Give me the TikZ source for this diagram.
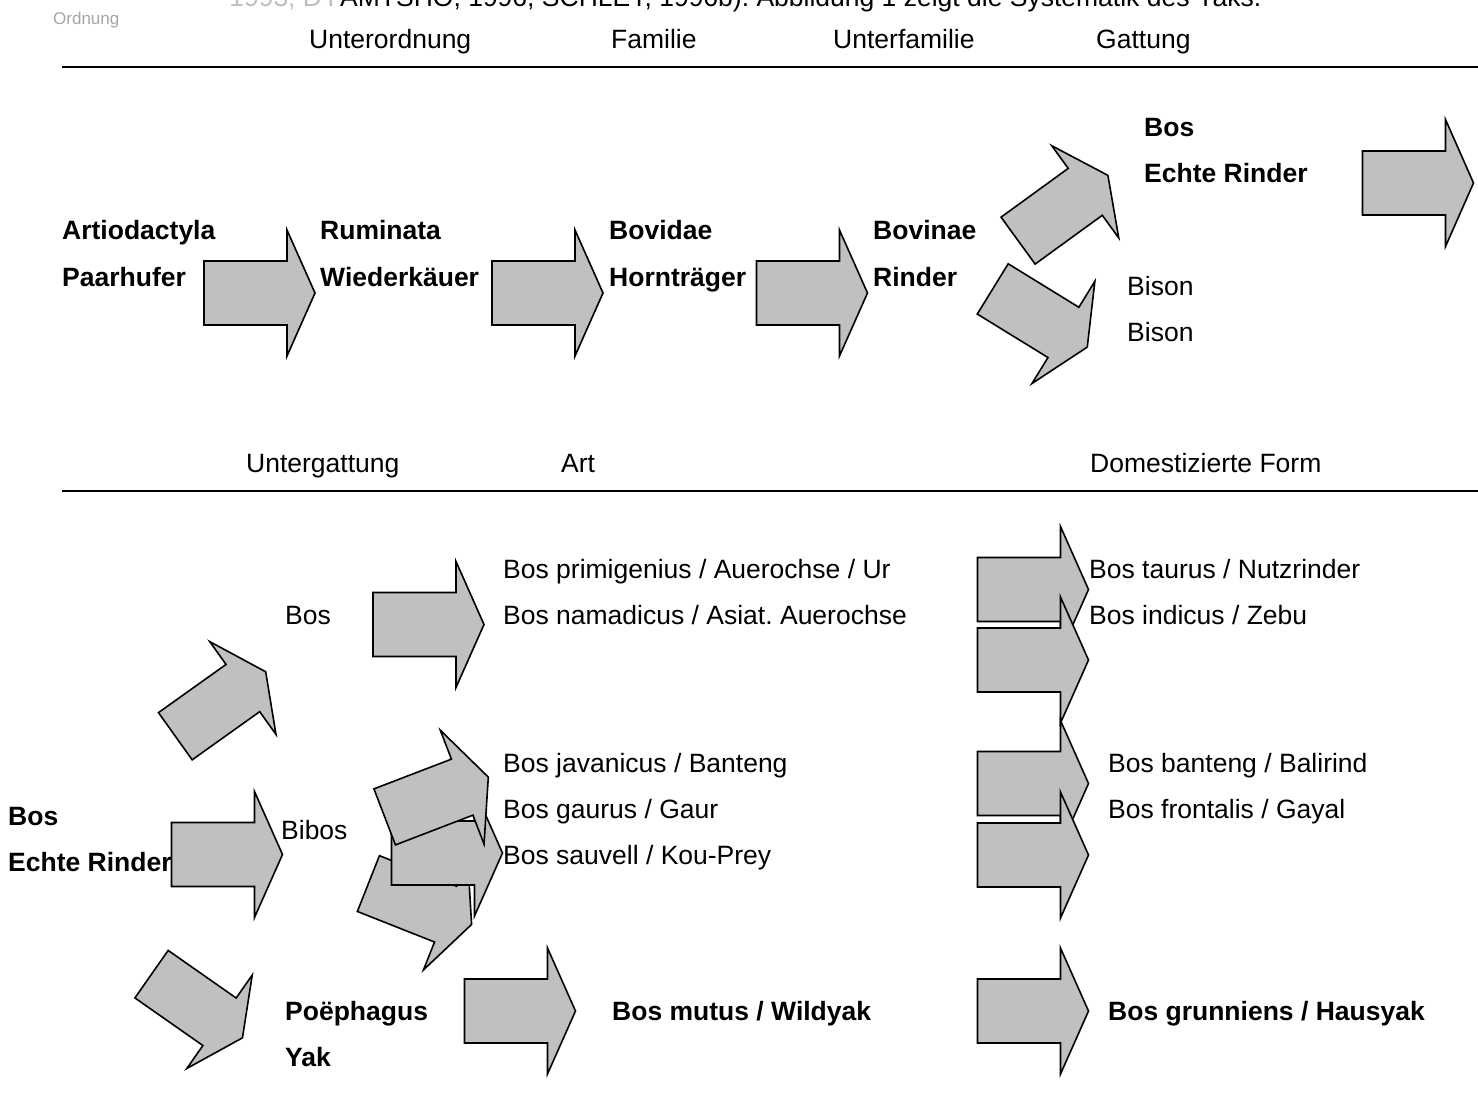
\documentclass[tikz,border=0pt]{standalone}
\usepackage{fontspec}
\setmainfont{Liberation Sans}
\frenchspacing
\newcommand\fsz{\fontsize{26.5}{46}\selectfont}
\newcommand\bigarr[6]{%
  \begin{scope}[shift={(#2,#3)},rotate=#4]
    \draw[blockarrow] (-55.5,-#5) -- (27.5,-#5) -- (27.5,-#6) -- (55.5,0) -- (27.5,#6) -- (27.5,#5) -- (-55.5,#5) -- cycle;
    \coordinate (#1) at (0,0);
  \end{scope}}
\definecolor{arrgray}{RGB}{192,192,192}
\tikzset{
  lbl/.style={anchor=base west, inner sep=0pt, font=\fsz},
  blbl/.style={lbl, font=\fsz\bfseries},
  blockarrow/.style={draw=black, fill=arrgray, line width=1.6pt, line join=miter},
  rule/.style={line width=1.8pt}
}
\begin{document}
\begin{tikzpicture}[x=1pt,y=-1pt]
\useasboundingbox (0,0) rectangle (1478,1110);
\clip (0,0) rectangle (1478,1110);
\fill[white] (0,0) rectangle (1478,1110);

% cut-off text line at top
\node[lbl] (cut) at (340,7) {AMTSHO, 1996, SCHLEY, 1996b). Abbildung 1 zeigt die Systematik des Yaks.};
\node[anchor=base east, inner sep=0pt, font=\fsz, text=black!25] (cutl) at (340,7) {1993; DY};
\node[anchor=base west, inner sep=0pt, font=\fontsize{17}{20}\selectfont, text=black!35] (ord) at (53,25) {Ordnung};

% headers row 1
\node[lbl] (h1) at (309,49) {Unterordnung};
\node[lbl] (h2) at (611,49) {Familie};
\node[lbl] (h3) at (833,49) {Unterfamilie};
\node[lbl] (h4) at (1096,49) {Gattung};
\coordinate (r1a) at (62,67);
\coordinate (r1b) at (1478,67);
\draw[rule] (r1a) -- (r1b);

% top row labels
\node[blbl] (art1) at (62,240) {Artiodactyla};
\node[blbl] (art2) at (62,287) {Paarhufer};
\node[blbl] (rum1) at (320,240) {Ruminata};
\node[blbl] (rum2) at (320,287) {Wiederkäuer};
\node[blbl] (bov1) at (609,240) {Bovidae};
\node[blbl] (bov2) at (609,287) {Hornträger};
\node[blbl] (bvn1) at (873,240) {Bovinae};
\node[blbl] (bvn2) at (873,287) {Rinder};
\node[blbl] (bos1) at (1144,137) {Bos};
\node[blbl] (bos2) at (1144,183) {Echte Rinder};
\node[lbl] (bis1) at (1127,295) {Bison};
\node[lbl] (bis2) at (1127,341) {Bison};

% top row arrows
\bigarr{ta1}{259.5}{293}{0}{32}{63}
\bigarr{ta2}{547.5}{293}{0}{32}{63}
\bigarr{ta3}{812}{293}{0}{32}{63}
\bigarr{ta4}{1063}{208}{36}{29}{57}
\bigarr{ta5}{1040}{318}{-31.6}{29.5}{60}
\bigarr{ta6}{1418}{183}{0}{32}{63.5}

% headers row 2
\node[lbl] (g1) at (246,472) {Untergattung};
\node[lbl] (g2) at (561,472) {Art};
\node[lbl] (g3) at (1090,472) {Domestizierte Form};
\coordinate (r2a) at (62,491);
\coordinate (r2b) at (1478,491);
\draw[rule] (r2a) -- (r2b);

% bottom labels
\node[lbl] (ubos) at (285,624) {Bos};
\node[lbl] (a1) at (503,578) {Bos primigenius / Auerochse / Ur};
\node[lbl] (a2) at (503,624) {Bos namadicus / Asiat. Auerochse};
\node[lbl] (d1) at (1089,578) {Bos taurus / Nutzrinder};
\node[lbl] (d2) at (1089,624) {Bos indicus / Zebu};
\node[lbl] (a3) at (503,772) {Bos javanicus / Banteng};
\node[lbl] (a4) at (503,818) {Bos gaurus / Gaur};
\node[lbl] (a5) at (503,864) {Bos sauvell / Kou-Prey};
\node[lbl] (d3) at (1108,772) {Bos banteng / Balirind};
\node[lbl] (d4) at (1108,818) {Bos frontalis / Gayal};
\node[lbl] (bibos) at (281,839) {Bibos};
\node[blbl] (eb1) at (8,825) {Bos};
\node[blbl] (eb2) at (8,871) {Echte Rinder};
\node[blbl] (poe1) at (285,1020) {Poëphagus};
\node[blbl] (poe2) at (285,1066) {Yak};
\node[blbl] (mut) at (612,1020) {Bos mutus / Wildyak};
\node[blbl] (gru) at (1108,1020) {Bos grunniens / Hausyak};

% bottom arrows
\bigarr{ba1}{428.5}{624.5}{0}{32}{63}
\bigarr{ba2}{220.5}{704}{35.5}{29}{57}
\bigarr{ba3}{227}{854.5}{0}{32}{63}
\bigarr{ba4}{197}{1006}{-35}{29}{57}
\bigarr{bc}{420}{904}{-21.6}{30}{60}
\bigarr{bb}{447}{853}{0}{32}{63}
\bigarr{ba}{436.5}{797}{21}{30}{61}
\bigarr{dd1}{1033}{589.5}{0}{32}{63}
\bigarr{dd2}{1033}{660}{0}{32}{63}
\bigarr{dd3}{1033}{783.5}{0}{32}{63}
\bigarr{dd4}{1033}{855}{0}{32}{63}
\bigarr{ee1}{520}{1011}{0}{32}{63}
\bigarr{ee2}{1033}{1011}{0}{32}{63}
\end{tikzpicture}
\end{document}
